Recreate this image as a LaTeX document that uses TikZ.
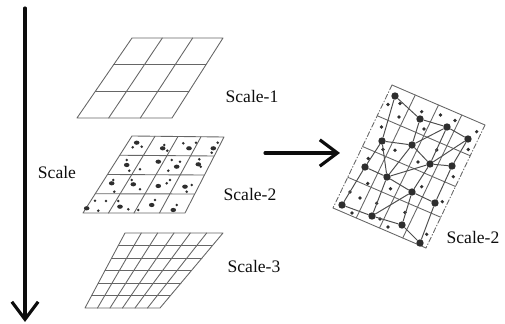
\documentclass[tikz,border=0pt]{standalone}
\usepackage{fontspec}
\setmainfont{Liberation Serif}
\usetikzlibrary{arrows.meta,calc}
\definecolor{PyrInk}{gray}{0.05}
\definecolor{PyrGrid}{gray}{0.4}
\definecolor{PyrDot}{gray}{0.18}
\tikzset{
    pyr/diagram/.style={
        x=0.02cm, y=-0.02cm,
        font=\normalsize,
        line cap=round,
        line join=round
    },
    pyr/grid/.style={draw=PyrGrid, line width=0.5pt},
    pyr/side/.style={
        draw=PyrGrid, line width=0.5pt,
        dash pattern=on 3pt off 1.2pt on 0.5pt off 1.2pt
    },
    pyr/edge/.style={draw=PyrDot!85, line width=0.55pt},
    pyr/vertex/.style={circle, fill=PyrDot, draw=none, inner sep=0pt, minimum size=4.2pt},
    pyr/arrow/.style={
        draw=PyrInk, line width=1.8pt,
        -{Straight Barb[length=10pt, width=15pt]}
    },
    pyr/label/.style={inner sep=1pt, text=PyrInk}
}
% grid of #2 x #2 cells between the corners (#1-tl),(#1-tr),(#1-br),(#1-bl)
\newcommand\QuadGrid[2]{%
    \pgfmathtruncatemacro\gridmax{#2-1}%
    \draw[pyr/grid] (#1-tl) -- (#1-tr) -- (#1-br) -- (#1-bl) -- cycle;
    \foreach \k in {1,...,\gridmax}{
        \pgfmathsetmacro\gridt{\k/#2}
        \draw[pyr/grid] ($(#1-tl)!\gridt!(#1-tr)$) -- ($(#1-bl)!\gridt!(#1-br)$);
        \draw[pyr/grid] ($(#1-tl)!\gridt!(#1-bl)$) -- ($(#1-tr)!\gridt!(#1-br)$);
    }%
}

\begin{document}
\begin{tikzpicture}[pyr/diagram]
    \useasboundingbox (0,0) rectangle (505,324);

    % scale axis
    \coordinate (axis-top) at (25,8);
    \coordinate (axis-end) at (25,322);
    \draw[pyr/arrow] (axis-top) -- (axis-end);
    \node[pyr/label] (lab-scale) at (57,172) {Scale};

    % scale-1
    \coordinate (s1-tl) at (132,38);
    \coordinate (s1-tr) at (223,38);
    \coordinate (s1-br) at (172,118);
    \coordinate (s1-bl) at (77,118);
    \QuadGrid{s1}{3}
    \node[pyr/label] (lab-s1) at (252,96) {Scale-1};

    % scale-2
    \coordinate (s2-tl) at (132,136);
    \coordinate (s2-tr) at (224,137);
    \coordinate (s2-br) at (185,213);
    \coordinate (s2-bl) at (83,213);
    \QuadGrid{s2}{4}
    \foreach \x/\y in {136.7/142.7, 162.7/148.3, 189/148.3, 213.3/148.3,
                       126.7/165, 158.3/161.7, 176.7/166.7, 198.3/164.3,
                       111.7/183.3, 133.3/184.3, 158.3/186, 185/186.7,
                       86.7/208.3, 120/206.7, 151.7/205, 173.3/210}
        \fill[PyrDot] (\x,\y) ellipse [x radius=1.6pt, y radius=1.2pt];
    \foreach \x/\y in {141.7/146.7, 132.7/147.3, 164.3/145, 167.3/150.7,
                       183.3/143.3, 196/142.7, 217.7/142.7, 211.7/152.7,
                       126.7/160, 129.3/170.7, 140/169.3, 171.7/160,
                       180/161.7, 168.3/170.7, 199.3/159.3, 200.7/166.7,
                       113.3/180, 114.3/191.7, 131.7/180, 140/189.3,
                       166.7/183.3, 170/180, 191.7/185, 186.7/191.7,
                       95/200.7, 106/201, 98.3/210.7, 118.3/201,
                       128.3/209.3, 155/200, 138.3/210, 176.7/205}
        \fill[PyrDot] (\x,\y) circle [radius=0.8pt];
    \node[pyr/label] (lab-s2) at (250,194) {Scale-2};

    % scale-3
    \coordinate (s3-tl) at (125,233);
    \coordinate (s3-tr) at (223,233);
    \coordinate (s3-br) at (160,308);
    \coordinate (s3-bl) at (85,308);
    \QuadGrid{s3}{6}
    \node[pyr/label] (lab-s3) at (254,266) {Scale-3};

    % mapping arrow
    \coordinate (map-start) at (265,153);
    \coordinate (map-end) at (340,153);
    \draw[pyr/arrow] (map-start) -- (map-end);

    % scale-2 as a graph
    \coordinate (g-tl) at (392,85);
    \coordinate (g-tr) at (485,125);
    \coordinate (g-br) at (426,248);
    \coordinate (g-bl) at (333,208);
    \foreach \k in {1,2,3}{
        \pgfmathsetmacro\gridt{\k/4}
        \draw[pyr/grid] ($(g-tl)!\gridt!(g-tr)$) -- ($(g-bl)!\gridt!(g-br)$);
        \draw[pyr/grid] ($(g-tl)!\gridt!(g-bl)$) -- ($(g-tr)!\gridt!(g-br)$);
    }
    \draw[pyr/grid] (g-tl) -- (g-tr) (g-bl) -- (g-br);
    \draw[pyr/side] (g-tl) -- (g-bl) (g-tr) -- (g-br);
    \foreach \x/\y in {388/104.5, 400/103.5, 399/117, 421.7/111.7, 440.5/115,
                       455/120.5, 381.5/127, 476.7/131.7, 424/129, 383/149.5,
                       395/150.3, 436.7/150, 468.3/149.5, 368.3/158.5, 418/162,
                       453.3/176.7, 367.8/183.5, 390.5/188.8, 421.7/186.7, 350/192,
                       360/198, 376.7/203.3, 442.3/201.7, 352/213, 380/219,
                       405/212.5, 388/227, 426.7/234.3}
        \fill[PyrDot] (\x,\y) circle [radius=1.05pt];
    \foreach \i/\x/\y in {1/395/96, 2/420/119, 3/447/127, 4/468/139,
                          5/382/141, 6/412/145, 7/365/167, 8/430/164,
                          9/452/166, 10/387/177, 11/412/192, 12/435/203,
                          13/342/205, 14/372/216, 15/402/225, 16/420/243}
        \node[pyr/vertex] (g\i) at (\x,\y) {};
    \foreach \a/\b in {1/2, 1/5, 2/3, 3/4, 2/6, 5/6, 6/3, 3/8, 5/7, 6/10,
                       6/8, 7/10, 8/9, 9/4, 4/8, 10/8, 10/11, 11/8, 11/12,
                       12/9, 7/13, 13/14, 14/10, 14/11, 15/11, 14/15,
                       15/16, 12/16, 5/10}
        \draw[pyr/edge] (g\a) -- (g\b);
    \node[pyr/label] (lab-g) at (473,237) {Scale-2};
\end{tikzpicture}
\end{document}
